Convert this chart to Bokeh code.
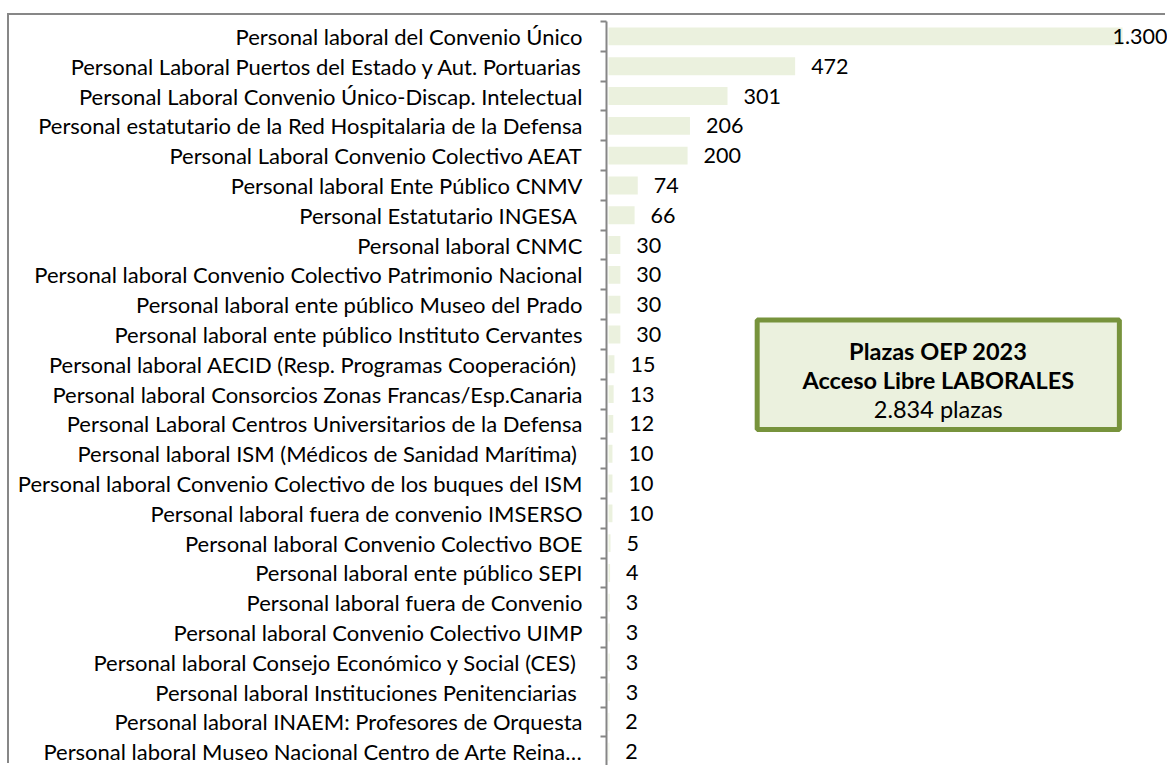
from bokeh.plotting import figure
from bokeh.models import Range1d, FixedTicker, BoxAnnotation, ColumnDataSource, Label
from bokeh.core.properties import value
from bokeh.embed import file_html
from bokeh.resources import INLINE

categories = [
    "Personal laboral del Convenio Único",
    "Personal Laboral Puertos del Estado y Aut. Portuarias",
    "Personal Laboral Convenio Único-Discap. Intelectual",
    "Personal estatutario de la Red Hospitalaria de la Defensa",
    "Personal Laboral Convenio Colectivo AEAT",
    "Personal laboral Ente Público CNMV",
    "Personal Estatutario  INGESA",
    "Personal laboral CNMC",
    "Personal laboral Convenio Colectivo Patrimonio Nacional",
    "Personal laboral ente público Museo del Prado",
    "Personal laboral ente público Instituto Cervantes",
    "Personal laboral  AECID (Resp. Programas Cooperación)",
    "Personal laboral Consorcios Zonas Francas/Esp.Canaria",
    "Personal Laboral Centros Universitarios de la Defensa",
    "Personal laboral  ISM (Médicos de Sanidad Marítima)",
    "Personal laboral Convenio Colectivo de los buques del ISM",
    "Personal laboral fuera de convenio IMSERSO",
    "Personal laboral Convenio Colectivo BOE",
    "Personal laboral ente público SEPI",
    "Personal laboral fuera de Convenio",
    "Personal laboral Convenio Colectivo UIMP",
    "Personal laboral Consejo Económico y Social (CES) ",
    "Personal laboral  Instituciones Penitenciarias",
    "Personal laboral INAEM: Profesores de Orquesta",
    "Personal laboral Museo Nacional Centro de Arte Reina…",
]
plazas = [1300, 472, 301, 206, 200, 74, 66, 30, 30, 30, 30, 15, 13, 12, 10, 10, 10, 5, 4, 3, 3, 3, 3, 2, 2]
box_title = ["Plazas OEP 2023", "Acceso Libre LABORALES"]
box_total = "2.834 plazas"

FONT = "Lato"
BAR = "#EBF1DE"
GRID = "#868686"

n = len(categories)
rows = list(range(n))
labels = [f"{v:,}".replace(",", ".") for v in plazas]
vmax = max(plazas)
offsets = [-10 if v == vmax else 16 for v in plazas]

src = ColumnDataSource(dict(y=rows, v=plazas, lab=labels, off=offsets))

p = figure(width=1158, height=750,
           x_range=Range1d(-5.06, 1413.7), y_range=Range1d(24.46, -0.5),
           output_backend="svg", toolbar_location=None,
           min_border_left=597, min_border_right=0, min_border_top=6, min_border_bottom=0)
p.styles = {"margin-top": "15px", "margin-left": "9px",
            "box-shadow": "-2px -2px 0 0 #878787"}

p.hbar(y="y", left=0, right="v", height=0.6, source=src, fill_color=BAR, line_color=None)
p.text(x="v", y="y", text="lab", x_offset="off", source=src,
       text_font=value(FONT), text_font_size="21.5px", text_baseline="middle",
       text_align="left", text_color="#000000")

box = BoxAnnotation(left=376, right=1292, top=9.51, bottom=13.19,
                    fill_color=BAR, fill_alpha=1.0, line_color="#77933C", line_alpha=1.0,
                    line_width=5)
p.add_layout(box)

cx = 834
for yy, txt, style in [(10.57, box_title[0], "bold"), (11.53, box_title[1], "bold"),
                       (12.5, box_total, "normal")]:
    p.add_layout(Label(x=cx, y=yy, text=txt, text_font=FONT, text_font_size="23.5px",
                       text_font_style=style, text_align="center", text_baseline="middle",
                       text_color="#000000"))

p.xaxis.visible = False
p.xgrid.visible = False
p.ygrid.visible = False
p.outline_line_color = None

ax = p.yaxis[0]
ax.ticker = FixedTicker(ticks=rows, minor_ticks=[i - 0.5 for i in range(n + 1)])
ax.major_label_overrides = {i: c for i, c in enumerate(categories)}
ax.major_tick_out = 0
ax.major_tick_in = 0
ax.minor_tick_out = 6
ax.minor_tick_in = 0
ax.minor_tick_line_color = GRID
ax.minor_tick_line_width = 2
ax.axis_line_color = GRID
ax.axis_line_width = 2
ax.major_label_standoff = 18
ax.major_label_text_font = FONT
ax.major_label_text_font_size = "22px"
ax.major_label_text_color = "#000000"

open("out.html", "w").write(file_html(p, INLINE))
